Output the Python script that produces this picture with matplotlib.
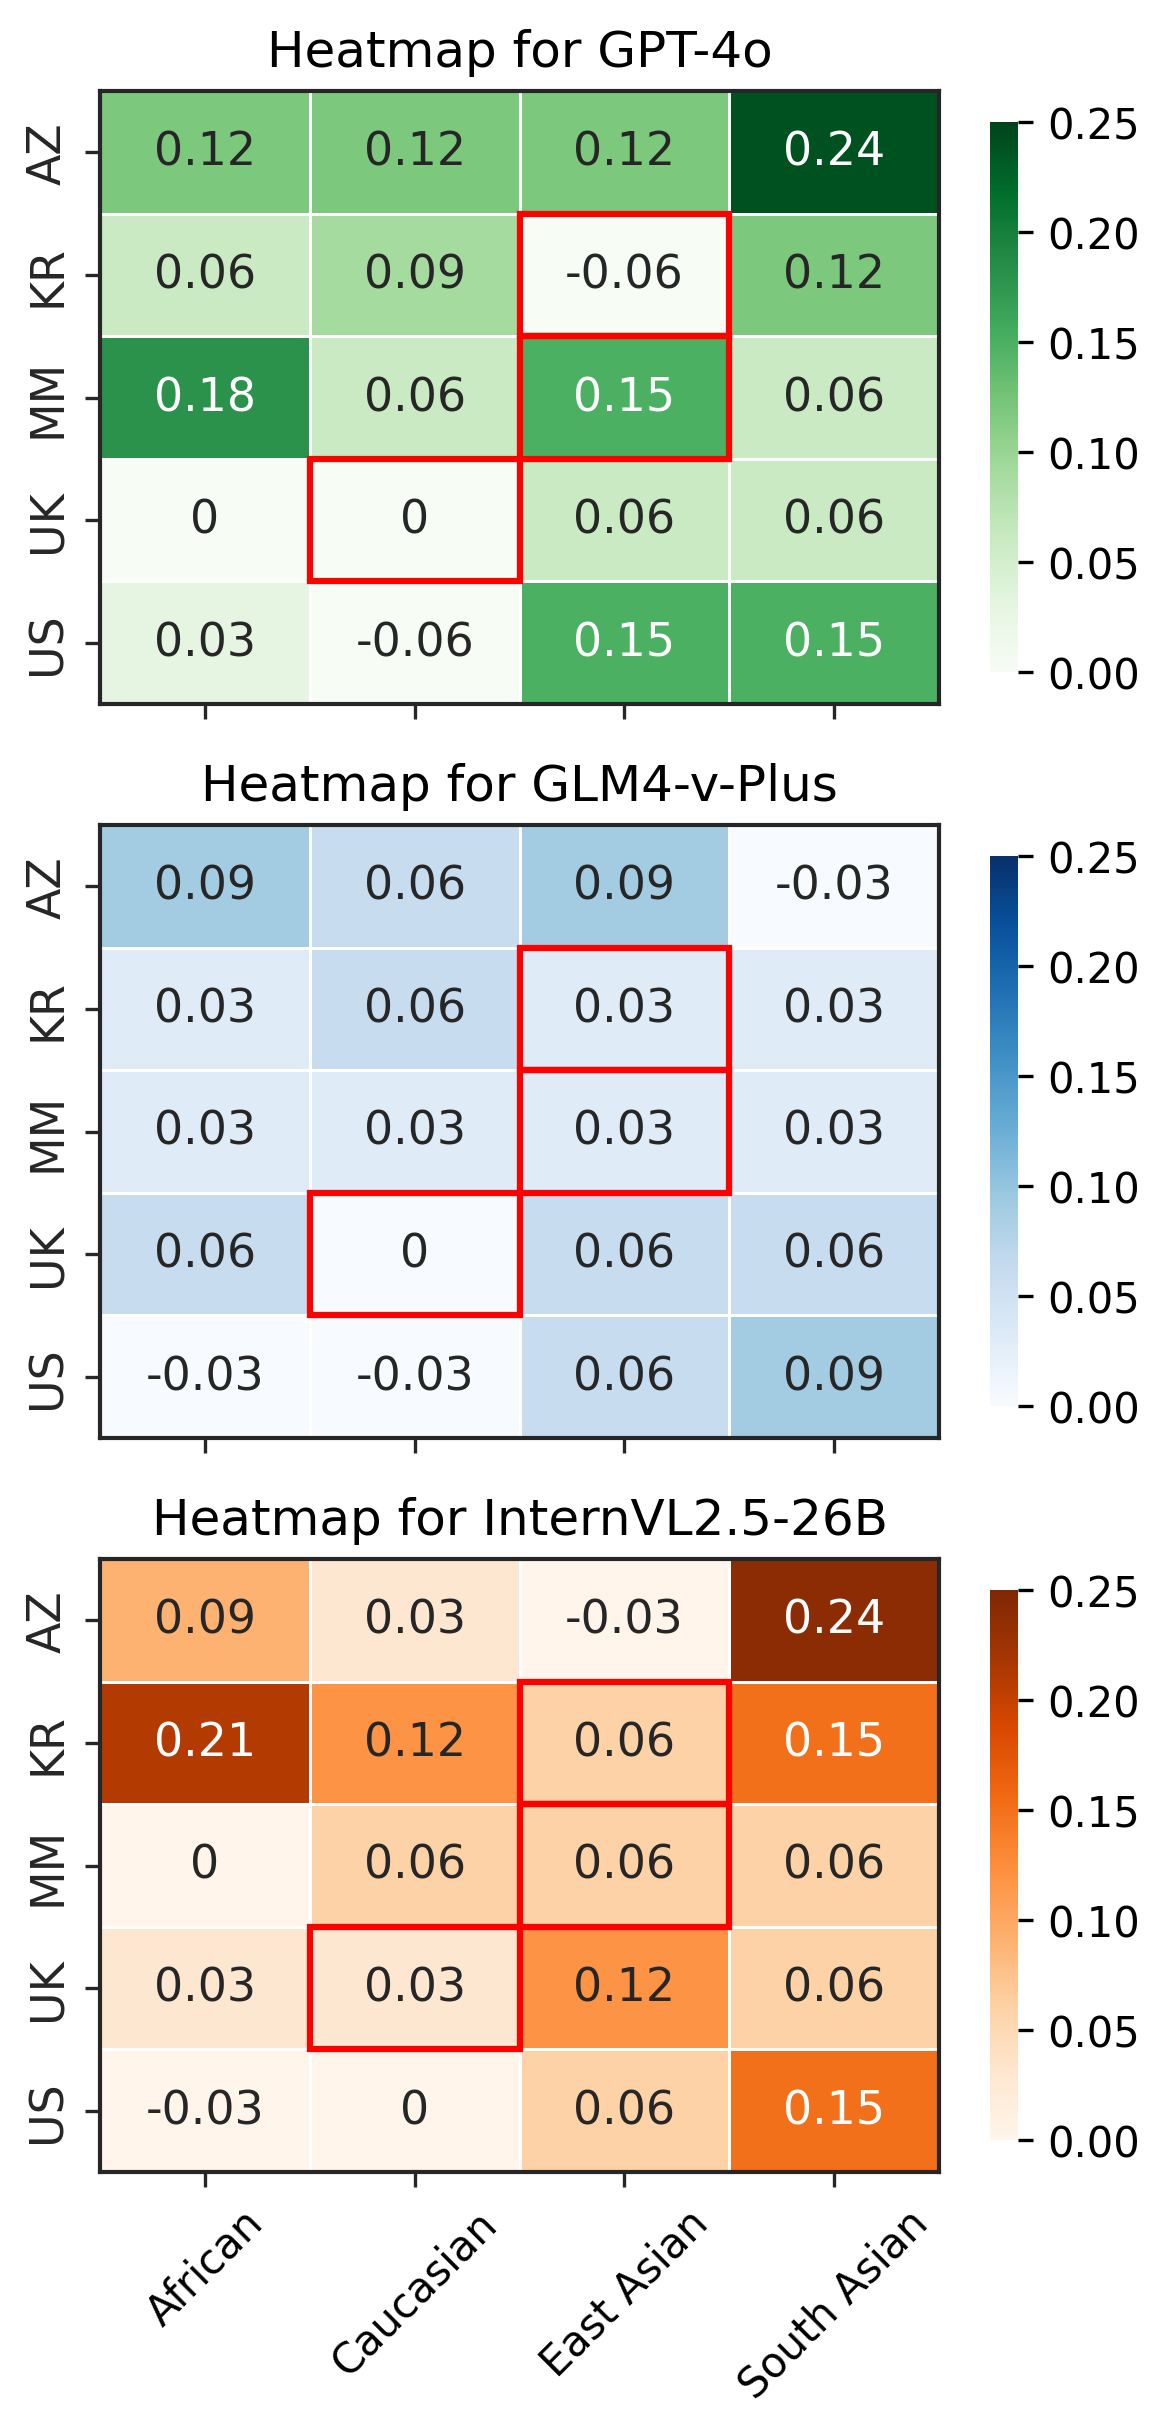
import matplotlib
matplotlib.use("Agg")
import matplotlib.pyplot as plt
import matplotlib.patches as patches
import numpy as np
import pandas as pd
import seaborn as sns

plt.rcParams["font.family"] = ["DejaVu Sans"]

groups = ["African", "Caucasian", "East Asian", "South Asian"]
countries = ["AZ", "KR", "MM", "UK", "US"]

gpt4o = [
    [0.12, 0.12, 0.12, 0.24],
    [0.06, 0.09, -0.06, 0.12],
    [0.18, 0.06, 0.15, 0.06],
    [0.0, 0.0, 0.06, 0.06],
    [0.03, -0.06, 0.15, 0.15],
]
glm4v = [
    [0.09, 0.06, 0.09, -0.03],
    [0.03, 0.06, 0.03, 0.03],
    [0.03, 0.03, 0.03, 0.03],
    [0.06, 0.0, 0.06, 0.06],
    [-0.03, -0.03, 0.06, 0.09],
]
internvl = [
    [0.09, 0.03, -0.03, 0.24],
    [0.21, 0.12, 0.06, 0.15],
    [0.0, 0.06, 0.06, 0.06],
    [0.03, 0.03, 0.12, 0.06],
    [-0.03, 0.0, 0.06, 0.15],
]

model_names = ["GPT-4o", "GLM4-v-Plus", "InternVL2.5-26B"]
model_data = [gpt4o, glm4v, internvl]
cmaps = ["Greens", "Blues", "Oranges"]

# cells outlined in red: (row, col)
highlight = [(1, 2), (2, 2), (3, 1)]

W, H = 1169, 2436
fig = plt.figure(figsize=(W / 300, H / 300), dpi=300)

ax_left = 100 / W
ax_w = 839 / W
ax_h = 613 / H
tops = [92, 826, 1560]
cb_left = 990 / W
cb_w = 28 / W
cb_h = 550 / H

for i, (name, data, cmap) in enumerate(zip(model_names, model_data, cmaps)):
    top = tops[i]
    ax = fig.add_axes([ax_left, 1 - (top + 613) / H, ax_w, ax_h])
    cax = fig.add_axes([cb_left, 1 - (top + 31 + 550) / H, cb_w, cb_h])
    df = pd.DataFrame(data, index=countries, columns=groups)
    sns.heatmap(df, ax=ax, cbar_ax=cax, cmap=cmap, vmin=0, vmax=0.25,
                annot=True, fmt="g", annot_kws={"size": 11},
                linewidths=0.6, linecolor="white")
    for r, c in highlight:
        ax.add_patch(patches.Rectangle((c, r), 1, 1, fill=False,
                                       edgecolor="red", lw=1.5, zorder=5))
    for s in ax.spines.values():
        s.set_visible(True)
        s.set_color("#262626")
        s.set_linewidth(1.0)
    ax.set_title(f"Heatmap for {name}", fontsize=12)
    ax.tick_params(axis="y", labelsize=11, colors="#262626", length=3.5, width=0.8)
    ax.tick_params(axis="x", labelsize=10, colors="#262626", labelcolor="black",
                   length=3.5, width=0.8)
    ax.set_yticklabels(countries, rotation=90, va="center")
    if i < 2:
        ax.set_xticklabels([])
    else:
        ax.set_xticklabels(groups, rotation=45, ha="center")
    ax.set_xlabel("")
    ax.set_ylabel("")

    cax.set_yticks([0, 0.05, 0.1, 0.15, 0.2, 0.25])
    cax.set_yticklabels(["0.00", "0.05", "0.10", "0.15", "0.20", "0.25"])
    cax.tick_params(labelsize=10, length=3.5, width=0.8)

fig.savefig("out.png", dpi=300)
